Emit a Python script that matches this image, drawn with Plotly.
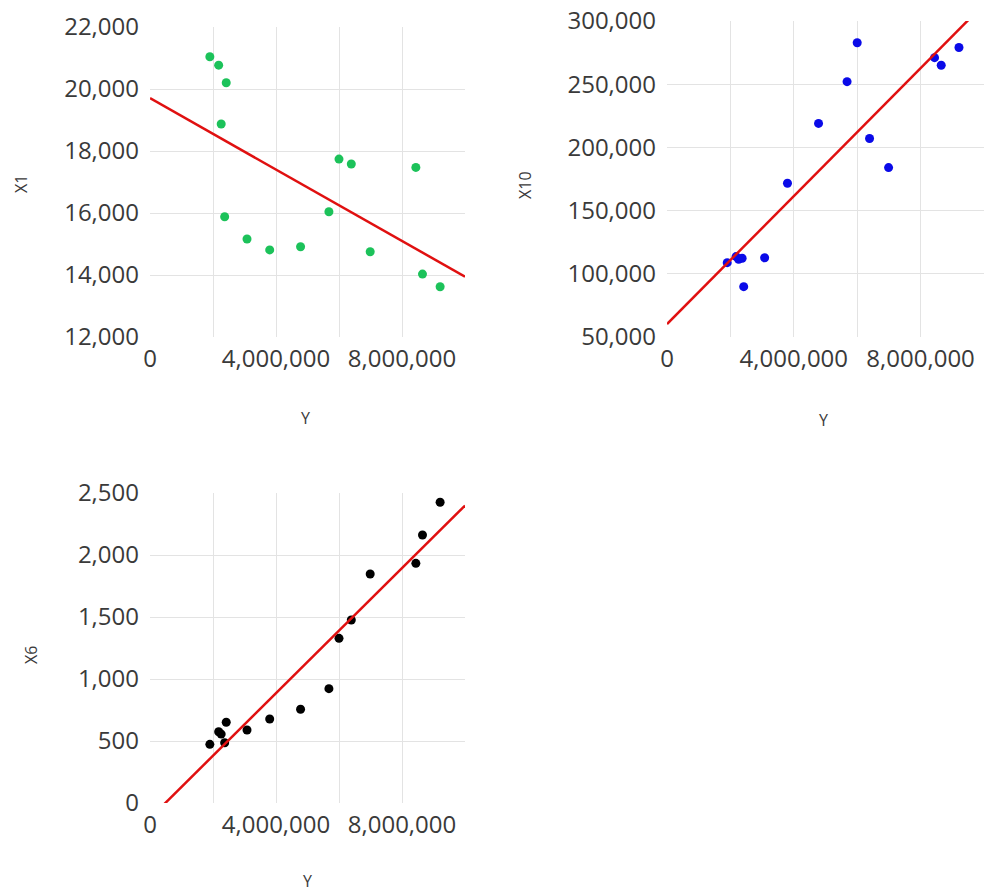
import numpy as np
import plotly.graph_objects as go

# Shared explanatory variable (Y) for all three panels
y_vals = [1.90e6, 2.18e6, 2.26e6, 2.37e6, 2.42e6, 3.08e6, 3.80e6, 4.78e6,
          5.68e6, 6.00e6, 6.39e6, 6.99e6, 8.44e6, 8.65e6, 9.21e6]

x1_vals = [21040, 20770, 18870, 15880, 20200, 15160, 14810, 14910,
           16040, 17740, 17580, 14750, 17470, 14030, 13620]

x10_vals = [108800, 113600, 111500, 112300, 89800, 112700, 171600, 219000,
            252000, 282800, 207000, 184000, 271000, 265000, 279000]

x6_vals = [473, 575, 556, 486, 651, 589, 677, 756,
           922, 1328, 1476, 1847, 1933, 2161, 2425]

x_ticks = [0, 4_000_000, 8_000_000]
x_grid = [2_000_000, 4_000_000, 6_000_000, 8_000_000]

x1_ticks = [12000, 14000, 16000, 18000, 20000, 22000]
x10_ticks = [50000, 100000, 150000, 200000, 250000, 300000]
x6_ticks = [0, 500, 1000, 1500, 2000, 2500]

W, H = 987, 894
FONT = "Open Sans"
TICK_COLOR = "#3a3a3a"
GRID = "#e3e3e3"
LINE_RED = "#e01010"


def px_x(p):
    return p / W


def px_y(p):
    return 1 - p / H


fig = go.Figure()

panels = [
    # (values, marker colour, xaxis id, yaxis id, y ticks, x-domain px, y-domain px, title, title pos, Y pos)
    (x1_vals, "#1cc25a", "x", "y", x1_ticks, (150, 465), (27, 337), "X1", (21, 184), (305, 418)),
    (x10_vals, "#0a0ae8", "x2", "y2", x10_ticks, (667, 984), (21, 337), "X10", (525, 185), (823, 420)),
    (x6_vals, "#000000", "x3", "y3", x6_ticks, (150, 465), (493, 803), "X6", (31, 655), (307, 881)),
]

xline = np.array([0, 10_000_000])

for vals, color, xa, ya, yt, xd, yd, title, tpos, ypos in panels:
    slope, intercept = np.polyfit(y_vals, vals, 1)
    fig.add_trace(go.Scatter(
        x=y_vals, y=vals, mode="markers", xaxis=xa, yaxis=ya,
        marker=dict(color=color, size=9, symbol="circle"),
        showlegend=False, hoverinfo="x+y",
    ))
    fig.add_trace(go.Scatter(
        x=xline, y=slope * xline + intercept, mode="lines", xaxis=xa, yaxis=ya,
        line=dict(color=LINE_RED, width=2.5), showlegend=False, hoverinfo="skip",
    ))

    xkey = "xaxis" if xa == "x" else "xaxis" + xa[1:]
    ykey = "yaxis" if ya == "y" else "yaxis" + ya[1:]
    fig.layout[xkey] = dict(
        domain=[px_x(xd[0]), px_x(xd[1])], range=[0, 10_000_000],
        anchor=ya, tickvals=x_ticks, tickformat=",", showgrid=False,
        zeroline=False, showline=False, ticks="", automargin=False,
        ticklabelstandoff=5,
        tickfont=dict(family=FONT, size=24, color=TICK_COLOR),
        minor=dict(tickvals=x_grid, showgrid=True, gridcolor=GRID, gridwidth=1, ticks=""),
        fixedrange=True,
    )
    fig.layout[ykey] = dict(
        domain=[px_y(yd[1]), px_y(yd[0])], range=[yt[0], yt[-1]],
        anchor=xa, tickvals=yt, tickformat=",", showgrid=False,
        zeroline=False, showline=False, ticks="", automargin=False,
        ticklabelstandoff=10,
        tickfont=dict(family=FONT, size=24, color=TICK_COLOR),
        minor=dict(tickvals=yt[1:-1], showgrid=True, gridcolor=GRID, gridwidth=1, ticks=""),
        fixedrange=True,
    )
    fig.add_annotation(
        x=px_x(tpos[0]), y=px_y(tpos[1]), xref="paper", yref="paper",
        xanchor="center", yanchor="middle",
        text=title, showarrow=False, textangle=-90,
        font=dict(family=FONT, size=16, color=TICK_COLOR),
    )
    fig.add_annotation(
        x=px_x(ypos[0]), y=px_y(ypos[1]), xref="paper", yref="paper",
        xanchor="center", yanchor="middle",
        text="Y", showarrow=False,
        font=dict(family=FONT, size=16, color=TICK_COLOR),
    )

fig.update_layout(
    width=W, height=H,
    margin=dict(l=0, r=0, t=0, b=0, pad=0, autoexpand=False),
    paper_bgcolor="white", plot_bgcolor="white",
    font=dict(family=FONT),
)

fig.write_html("out.html")
